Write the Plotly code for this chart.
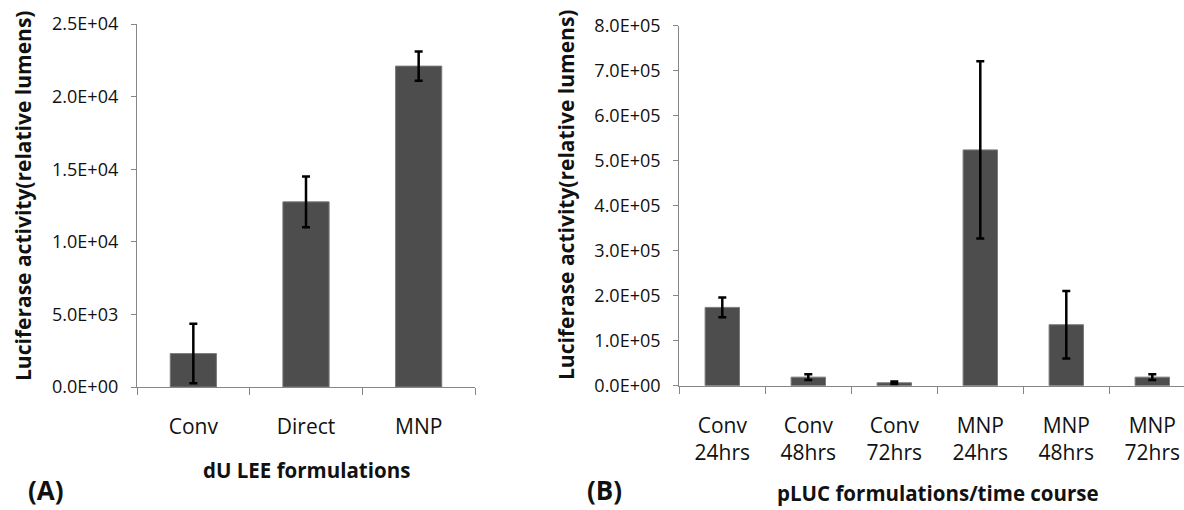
import plotly.graph_objects as go

W, H = 1184, 510

# ---- Panel A data ----
a_categories = ["Conv", "Direct", "MNP"]
a_values = [2300, 12750, 22100]
a_errors = [2050, 1750, 1000]
a_tickvals = [0, 5000, 10000, 15000, 20000, 25000]
a_ticktext = ["0.0E+00", "5.0E+03", "1.0E+04", "1.5E+04", "2.0E+04", "2.5E+04"]

# ---- Panel B data ----
b_categories = ["Conv<br>24hrs", "Conv<br>48hrs", "Conv<br>72hrs",
                "MNP<br>24hrs", "MNP<br>48hrs", "MNP<br>72hrs"]
b_values = [174000, 19000, 6500, 524000, 135500, 19000]
b_errors = [22000, 6500, 3000, 197000, 75000, 6500]
b_tickvals = [0, 100000, 200000, 300000, 400000, 500000, 600000, 700000, 800000]
b_ticktext = ["0.0E+00", "1.0E+05", "2.0E+05", "3.0E+05", "4.0E+05",
              "5.0E+05", "6.0E+05", "7.0E+05", "8.0E+05"]

FONT = "Open Sans"
BAR = "#4d4d4d"
AXIS = "#868686"
TXT = "#111111"

def px(x):
    return x / W

def py(y):
    return 1 - y / H

fig = go.Figure()

fig.add_trace(go.Bar(
    x=a_categories, y=a_values, width=0.41,
    marker=dict(color=BAR, line=dict(color="#7a7a7a", width=1)),
    error_y=dict(type="data", array=a_errors, visible=True,
                 color="#000000", thickness=2.5, width=4),
    xaxis="x", yaxis="y", showlegend=False, hoverinfo="skip"))

fig.add_trace(go.Bar(
    x=b_categories, y=b_values, width=0.4,
    marker=dict(color=BAR, line=dict(color="#7a7a7a", width=1)),
    error_y=dict(type="data", array=b_errors, visible=True,
                 color="#000000", thickness=2.5, width=4),
    xaxis="x2", yaxis="y2", showlegend=False, hoverinfo="skip"))

common_y = dict(showgrid=False, zeroline=False, showline=True, linecolor=AXIS,
                linewidth=1.3, ticks="outside", ticklen=5, tickcolor=AXIS,
                ticklabelstandoff=9,
                tickfont=dict(family=FONT, size=18, color=TXT), tickmode="array",
                automargin=False)
common_x = dict(showgrid=False, zeroline=False, showline=True, linecolor=AXIS,
                linewidth=1.3, ticks="outside", ticklen=7, tickcolor=AXIS,
                tickson="boundaries", type="category", automargin=False,
                ticklabelstandoff=21,
                tickfont=dict(family=FONT, size=21, color=TXT))

fig.update_layout(
    width=W, height=H, autosize=False,
    margin=dict(l=0, r=0, t=0, b=0, pad=0, autoexpand=False),
    paper_bgcolor="white", plot_bgcolor="white",
    xaxis=dict(domain=[px(137), px(475)], anchor="y", range=[-0.5, 2.5], **common_x),
    yaxis=dict(domain=[py(387), py(24)], anchor="x", range=[0, 25000],
               tickvals=a_tickvals, ticktext=a_ticktext, **common_y),
    xaxis2=dict(domain=[px(679.3), 1.0], anchor="y2",
                range=[-0.5, -0.5 + (W - 679.3) / 86.0], **common_x),
    yaxis2=dict(domain=[py(385.7), py(25.7)], anchor="x2", range=[0, 800000],
                tickvals=b_tickvals, ticktext=b_ticktext, **common_y),
    bargap=0.6,
)

ytitle_font = dict(family=FONT, size=21, color=TXT)
xtitle_font = dict(family=FONT, size=20.5, color=TXT)
panel_font = dict(family=FONT, size=26, color=TXT)
annotations = [
    dict(text="<b>Luciferase activity(relative lumens)</b>", x=px(23), y=py(196),
         textangle=-90, font=ytitle_font),
    dict(text="<b>Luciferase activity(relative lumens)</b>", x=px(566), y=py(195),
         textangle=-90, font=ytitle_font),
    dict(text="<b>dU LEE formulations</b>", x=px(306), y=py(470), font=xtitle_font),
    dict(text="<b>pLUC formulations/time course</b>", x=px(938), y=py(493), font=xtitle_font),
    dict(text="<b>(A)</b>", x=px(46), y=py(490), font=panel_font),
    dict(text="<b>(B)</b>", x=px(604), y=py(490), font=panel_font),
]
for a in annotations:
    a.update(xref="paper", yref="paper", showarrow=False, xanchor="center", yanchor="middle")
fig.update_layout(annotations=annotations)

fig.write_html("out.html", config={"responsive": False, "displayModeBar": False},
               post_script="document.body.style.margin='0px';document.body.style.overflow='hidden';")
